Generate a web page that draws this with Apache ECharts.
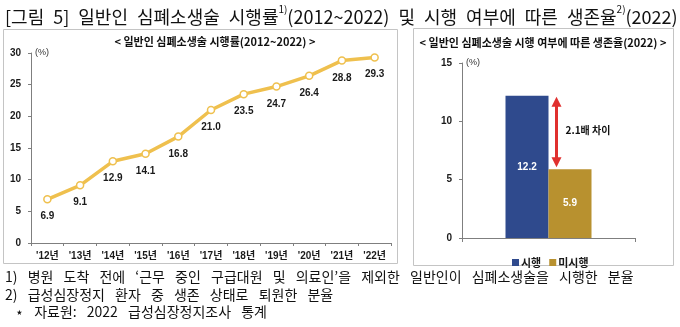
<!DOCTYPE html>
<html>
<head>
<meta charset="utf-8">
<script src="https://cdn.jsdelivr.net/npm/echarts@6/dist/echarts.min.js"></script>
<style>
html,body{margin:0;padding:0;background:#fff;}
#chart{width:680px;height:327px;}
</style>
</head>
<body>
<div id="chart"></div>
<script>
// CPR rate by bystanders, 2012-2022 (%)
const years = ["'12년", "'13년", "'14년", "'15년", "'16년", "'17년", "'18년", "'19년", "'20년", "'21년", "'22년"];
const cprRate = [6.9, 9.1, 12.9, 14.1, 16.8, 21.0, 23.5, 24.7, 26.4, 28.8, 29.3];

// Survival rate by whether bystander CPR was performed, 2022 (%)
const survivalGroups = ['시행', '미시행'];
const survivalRate = [12.2, 5.9];
const ratioNote = '2.1배 차이';

const footnotes = [
  "1) 병원 도착 전에 ‘근무 중인 구급대원 및 의료인’을 제외한 일반인이 심폐소생술을 시행한 분율",
  "2) 급성심장정지 환자 중 생존 상태로 퇴원한 분율",
  "⋆ 자료원: 2022 급성심장정지조사 통계"
];

const GOLD_LINE = '#EFC04E';
const BLUE = '#2F4A8D';
const GOLD_BAR = '#B8912F';
const AXIS = '#7f7f7f';
const NUM_FONT = '"Liberation Sans", "Noto Sans CJK KR", sans-serif';
const KR_FONT = '"Noto Sans CJK KR", sans-serif';

// wider word spacing for the document-style text
const spaced = (s, sep) => s.split(' ').join(sep);

const chart = echarts.init(document.getElementById('chart'), null, {renderer: 'canvas'});

const axisLineStyle = {show: true, lineStyle: {color: AXIS, width: 1}};
const tickStyle = {show: true, length: 3, lineStyle: {color: AXIS}};
const labelFont = {fontFamily: NUM_FONT, fontWeight: 'bold', fontSize: 10, color: '#1a1a1a'};

const option = {
  animation: false,
  textStyle: {fontFamily: KR_FONT},
  grid: [
    {left: 31, right: 289, top: 53, bottom: 84},
    {left: 462, right: 45, top: 63, bottom: 89}
  ],
  legend: {
    data: survivalGroups,
    left: 507, top: 252,
    icon: 'rect', itemWidth: 7, itemHeight: 7, itemGap: 8,
    textStyle: {fontFamily: KR_FONT, fontWeight: 'bold', fontSize: 11, color: '#1a1a1a', padding: [0, 0, 0, -3]}
  },
  xAxis: [
    {
      gridIndex: 0, type: 'category', data: years, boundaryGap: true,
      axisLine: axisLineStyle, axisTick: tickStyle,
      axisLabel: Object.assign({margin: 8}, labelFont)
    },
    {
      gridIndex: 1, type: 'category', data: [''], boundaryGap: true,
      axisLine: axisLineStyle, axisTick: Object.assign({}, tickStyle, {length: 4}),
      axisLabel: {show: false}
    }
  ],
  yAxis: [
    {
      gridIndex: 0, type: 'value', min: 0, max: 30, interval: 5,
      name: '(%)', nameLocation: 'end', nameGap: 0,
      nameTextStyle: {fontFamily: NUM_FONT, fontSize: 9, color: '#333', align: 'left', verticalAlign: 'bottom', padding: [0, 0, -4, 4]},
      axisLine: axisLineStyle, axisTick: tickStyle, splitLine: {show: false},
      axisLabel: Object.assign({margin: 10}, labelFont)
    },
    {
      gridIndex: 1, type: 'value', min: 0, max: 15, interval: 5,
      name: '(%)', nameLocation: 'end', nameGap: 0,
      nameTextStyle: {fontFamily: NUM_FONT, fontSize: 9, color: '#333', align: 'left', verticalAlign: 'bottom', padding: [0, 0, -4, 4]},
      axisLine: axisLineStyle, axisTick: tickStyle, splitLine: {show: false},
      axisLabel: Object.assign({margin: 10}, labelFont)
    }
  ],
  series: [
    {
      name: 'CPR rate', type: 'line', xAxisIndex: 0, yAxisIndex: 0,
      data: cprRate,
      symbol: 'circle', symbolSize: 7,
      lineStyle: {color: GOLD_LINE, width: 3.5},
      itemStyle: {color: '#fff', borderColor: GOLD_LINE, borderWidth: 1.5},
      label: {
        show: true, position: 'bottom', distance: 8,
        formatter: p => p.value.toFixed(1),
        fontFamily: NUM_FONT, fontWeight: 'bold', fontSize: 10, color: '#1a1a1a'
      },
      z: 3
    },
    {
      name: survivalGroups[0], type: 'bar', xAxisIndex: 1, yAxisIndex: 1,
      data: [survivalRate[0]], barWidth: 43, barGap: '0%',
      itemStyle: {color: BLUE},
      label: {show: true, position: 'inside', formatter: p => p.value.toFixed(1),
        fontFamily: NUM_FONT, fontWeight: 'bold', fontSize: 10, color: '#fff'}
    },
    {
      name: survivalGroups[1], type: 'bar', xAxisIndex: 1, yAxisIndex: 1,
      data: [survivalRate[1]], barWidth: 43, barGap: '0%',
      itemStyle: {color: GOLD_BAR},
      label: {show: true, position: 'inside', formatter: p => p.value.toFixed(1),
        fontFamily: NUM_FONT, fontWeight: 'bold', fontSize: 10, color: '#fff'}
    }
  ]
};

chart.setOption(option);

// Annotation arrow between the two survival bars, placed from the data values
const xMid = chart.convertToPixel({xAxisIndex: 1}, 0);
const yHigh = chart.convertToPixel({yAxisIndex: 1}, survivalRate[0]);
const yLow = chart.convertToPixel({yAxisIndex: 1}, survivalRate[1]);
const ax = xMid + 8;
const RED = '#E0302F';

const TS = '\u2002';
const graphics = [
  // panel frames
  {type: 'rect', shape: {x: 3.5, y: 29.5, width: 394, height: 234}, style: {fill: 'none', stroke: '#c4c4c4', lineWidth: 1}, z: -1},
  {type: 'rect', shape: {x: 413.5, y: 28.5, width: 260, height: 237}, style: {fill: 'none', stroke: '#c4c4c4', lineWidth: 1}, z: -1},
  // main title
  {
    type: 'text', left: 5, top: 4,
    style: {
      text: '{t|' + spaced('[그림 5] 일반인 심폐소생술 시행률', TS) + '}{s|1)}{t|' +
            spaced('(2012~2022) 및 시행 여부에 따른 생존율', TS) + '}{s|2)}{t|(2022)}',
      rich: {
        t: {fontFamily: KR_FONT, fontSize: 18, fill: '#111', lineHeight: 22, verticalAlign: 'bottom'},
        s: {fontFamily: KR_FONT, fontSize: 10, fill: '#111', lineHeight: 22, verticalAlign: 'top', padding: [0, 0, 8, 0]}
      }
    }
  },
  // panel titles
  {
    type: 'text', x: 215, y: 42,
    style: {text: '< 일반인 심폐소생술 시행률(2012~2022) >', fontFamily: KR_FONT, fontWeight: 'bold', fontSize: 11, fill: '#111', align: 'center', verticalAlign: 'middle'}
  },
  {
    type: 'text', x: 543, y: 43,
    style: {text: '< 일반인 심폐소생술 시행 여부에 따른 생존율(2022) >', fontFamily: KR_FONT, fontWeight: 'bold', fontSize: 11, fill: '#111', align: 'center', verticalAlign: 'middle'}
  },
  // arrow shaft and heads
  {type: 'line', shape: {x1: ax, y1: yHigh + 9, x2: ax, y2: yLow - 9}, style: {stroke: RED, lineWidth: 3}},
  {type: 'polygon', shape: {points: [[ax, yHigh + 1], [ax - 5, yHigh + 11], [ax + 5, yHigh + 11]]}, style: {fill: RED}},
  {type: 'polygon', shape: {points: [[ax, yLow - 2], [ax - 5, yLow - 12], [ax + 5, yLow - 12]]}, style: {fill: RED}},
  {
    type: 'text', x: ax + 9, y: (yHigh + yLow) / 2 - 2,
    style: {text: ratioNote, fontFamily: KR_FONT, fontWeight: 'bold', fontSize: 10, fill: '#111', align: 'left', verticalAlign: 'middle'}
  }
];

// footnotes
footnotes.forEach((line, i) => {
  graphics.push({
    type: 'text', x: i === 2 ? 15 : 5, y: 277 + i * 17.5,
    style: {text: spaced(line, TS + ' '), fontFamily: KR_FONT, fontSize: 14, fill: '#111', align: 'left', verticalAlign: 'middle'}
  });
});

chart.setOption({graphic: graphics});
</script>
</body>
</html>
